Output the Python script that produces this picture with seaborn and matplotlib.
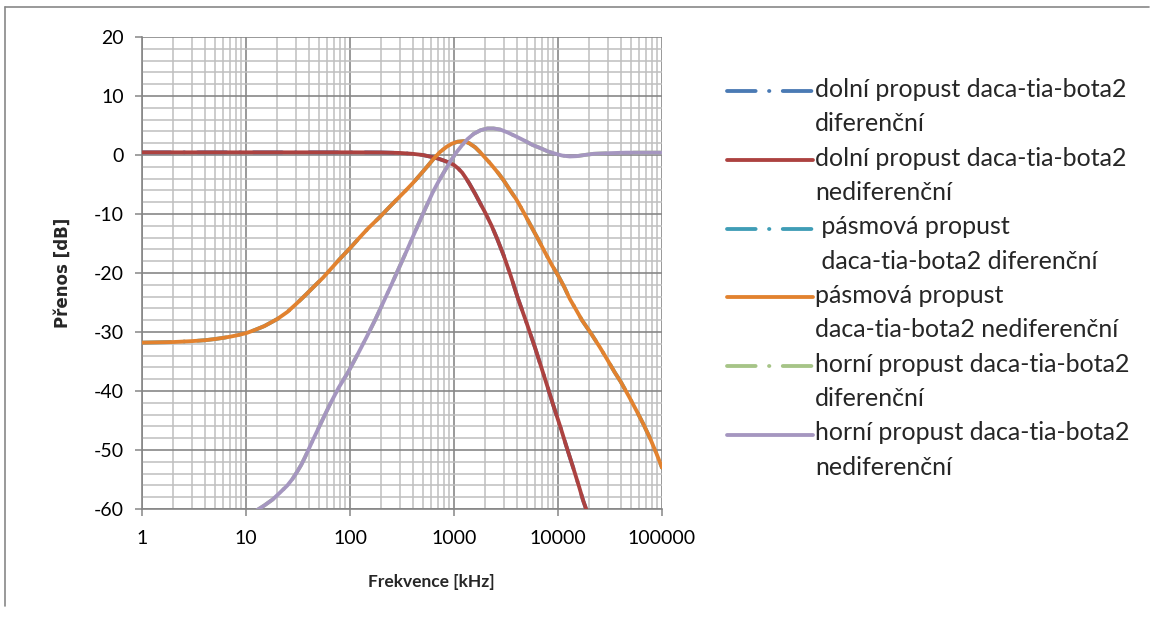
import numpy as np
import pandas as pd
import matplotlib
matplotlib.use("Agg")
import matplotlib.pyplot as plt
from matplotlib.lines import Line2D
from matplotlib.legend_handler import HandlerLine2D
from matplotlib.ticker import FixedLocator, NullFormatter
import seaborn as sns

# --- measured frequency responses (frequency in kHz, transfer in dB) ---
lp_freq = [1, 10, 100, 200, 300, 400, 500, 600, 700, 800, 900, 1000, 1100, 1200, 1300,
           1400, 1600, 1800, 2000, 2300, 2600, 3000, 3500, 4100, 5000, 6000, 7000, 8000,
           9000, 10500, 12000, 14000, 16000, 17400, 19500]
lp_db = [0.45, 0.45, 0.45, 0.43, 0.35, 0.2, 0.0, -0.3, -0.6, -0.95, -1.3, -1.7, -2.3,
         -3.0, -3.9, -4.8, -6.6, -8.3, -9.8, -12.0, -14.2, -17.0, -20.4, -24.2, -28.5,
         -32.6, -36.3, -39.5, -42.4, -46.0, -49.3, -53.0, -56.3, -58.5, -61.0]

bp_freq = [1, 2, 3, 4, 5, 6, 7, 8, 10, 12, 15, 20, 25, 31, 38, 45, 55, 64, 80, 100, 125,
           150, 194, 240, 280, 340, 405, 470, 550, 640, 733, 850, 950, 1080, 1250, 1400,
           1600, 1800, 2000, 2200, 2400, 2700, 3000, 3500, 4000, 4700, 5760, 6500, 7500,
           8700, 10000, 11500, 13000, 15000, 17000, 20700, 25300, 29600, 35000, 40000,
           48000, 57500, 67000, 76700, 88000, 100000]
bp_db = [-31.8, -31.7, -31.55, -31.4, -31.2, -31.0, -30.8, -30.6, -30.2, -29.7, -29.0,
         -27.8, -26.6, -25.1, -23.6, -22.3, -20.8, -19.5, -17.6, -15.8, -13.9, -12.4,
         -10.5, -8.8, -7.6, -6.1, -4.7, -3.4, -2.0, -0.6, 0.5, 1.4, 1.9, 2.25, 2.35, 2.0,
         1.3, 0.4, -0.5, -1.3, -2.1, -3.2, -4.3, -6.1, -7.6, -9.8, -12.7, -14.4, -16.5,
         -18.6, -20.4, -22.4, -24.4, -26.3, -28.0, -30.2, -32.6, -34.6, -36.8, -38.4,
         -40.9, -43.5, -45.8, -48.0, -50.5, -53.0]

hp_freq = [11, 13, 15, 18, 21, 25, 28, 31, 34, 37, 44, 53, 64, 78, 96, 120, 145, 175,
           210, 250, 300, 360, 430, 520, 630, 720, 820, 930, 1050, 1200, 1350, 1550, 1800,
           2100, 2400, 2800, 3300, 4000, 4800, 5700, 6700, 8000, 9500, 11000, 13000,
           15000, 18000, 22000, 30000, 45000, 70000, 100000]
hp_db = [-61.0, -60.1, -59.4, -58.4, -57.3, -56.0, -54.9, -53.7, -52.5, -51.2, -48.3,
         -45.3, -42.3, -39.4, -36.8, -33.6, -30.8, -27.9, -24.9, -22.0, -18.9, -15.8,
         -12.7, -9.4, -6.2, -4.3, -2.6, -1.0, 0.4, 1.7, 2.7, 3.6, 4.2, 4.5, 4.5, 4.3, 3.8,
         3.1, 2.4, 1.7, 1.2, 0.6, 0.2, -0.1, -0.25, -0.2, 0.0, 0.2, 0.3, 0.4, 0.4, 0.4]

# the differential variants coincide with the single-ended ones on this scale
series_names = [
    "dolní propust daca-tia-bota2\ndiferenční",
    "dolní propust daca-tia-bota2\nnediferenční",
    " pásmová propust\n daca-tia-bota2 diferenční",
    "pásmová propust\ndaca-tia-bota2 nediferenční",
    "horní propust daca-tia-bota2\ndiferenční",
    "horní propust daca-tia-bota2\nnediferenční",
]
series_data = [(lp_freq, lp_db), (lp_freq, lp_db), (bp_freq, bp_db),
               (bp_freq, bp_db), (hp_freq, hp_db), (hp_freq, hp_db)]
series_colors = ["#4a7ab4", "#ac4240", "#3f9db6", "#e2822f", "#a6c487", "#a596c0"]
series_dashed = [True, False, True, False, True, False]

x_ticks = [1, 10, 100, 1000, 10000, 100000]
x_ticklabels = ["1", "10", "100", "1000", "10000", "100000"]
y_ticks = [20, 10, 0, -10, -20, -30, -40, -50, -60]

sns.set_theme(style="white")
plt.rcParams["font.family"] = ["Lato", "DejaVu Sans"]
plt.rcParams["axes.unicode_minus"] = False

fig = plt.figure(figsize=(11.54, 6.28), dpi=100)
ax = fig.add_axes([142 / 1154, 1 - 509 / 628, 520 / 1154, 472 / 628])

LW = 2.75
for (fx, fy), name, col, dashed in zip(series_data, series_names, series_colors, series_dashed):
    df = pd.DataFrame({"f": fx, "db": fy})
    kw = dict(lw=LW, color=col, label=name, ax=ax, sort=False, zorder=3 if not dashed else 2)
    line = sns.lineplot(data=df, x="f", y="db", **kw).get_lines()[-1]
    line.set_solid_joinstyle("round")
    if dashed:
        line.set_dashes((7.5, 3.5, 0.1, 3.5))
        line.set_dash_capstyle("round")
    else:
        line.set_solid_capstyle("round")

ax.set_xscale("log")
ax.set_xlim(1, 100000)
ax.set_ylim(-60, 20)

ax.xaxis.set_major_locator(FixedLocator(x_ticks))
ax.set_xticklabels(x_ticklabels)
minor_x = [m * 10 ** d for d in range(0, 5) for m in range(2, 10)]
ax.xaxis.set_minor_locator(FixedLocator(minor_x))
ax.xaxis.set_minor_formatter(NullFormatter())
ax.set_yticks(y_ticks)
ax.set_yticks(np.arange(-60, 21, 2), minor=True)

ax.grid(which="major", color="#878787", lw=1.2, zorder=0)
ax.grid(which="minor", color="#bfbfbf", lw=1.1, zorder=0)
ax.set_axisbelow(True)

for side in ["top", "right"]:
    ax.spines[side].set_visible(False)
for side in ["left", "bottom"]:
    ax.spines[side].set_color("#868686")
    ax.spines[side].set_linewidth(1.2)

ax.tick_params(axis="both", which="major", direction="out", length=5, width=1.1,
               color="#868686", labelsize=14, labelcolor="black")
ax.tick_params(axis="x", which="major", pad=10, bottom=True)
ax.tick_params(axis="y", which="major", pad=8, left=True)
ax.tick_params(axis="both", which="minor", length=0)

ax.set_xlabel("Frekvence [kHz]", fontsize=12.5, fontweight="bold")
ax.xaxis.set_label_coords(0.556, -0.138)
ax.set_ylabel("Přenos [dB]", fontsize=12, fontweight="bold", labelpad=16,
              family="DejaVu Sans")


class FirstLineHandler(HandlerLine2D):
    """Place the legend key level with the first line of a two-line label."""

    def create_artists(self, legend, orig_handle, xdescent, ydescent, width, height,
                       fontsize, trans):
        return super().create_artists(legend, orig_handle, xdescent, ydescent - 23,
                                      width, height, fontsize, trans)


handles, labels = ax.get_legend_handles_labels()
leg = ax.legend(handles, labels, loc="upper left", bbox_to_anchor=(727 / 1154, 1 - 78 / 628),
                bbox_transform=fig.transFigure, frameon=False, fontsize=18,
                handlelength=3.45, handletextpad=0.08, labelspacing=0.45,
                borderpad=0, borderaxespad=0,
                handler_map={Line2D: FirstLineHandler()})
for t in leg.get_texts():
    t.set_linespacing(1.6)

# chart-area border
fig.add_artist(Line2D([5 / 1154, 1149 / 1154], [1 - 7 / 628, 1 - 7 / 628],
                      transform=fig.transFigure, color="#888888", lw=1.2))
fig.add_artist(Line2D([5 / 1154, 5 / 1154], [1 - 7 / 628, 1 - 606 / 628],
                      transform=fig.transFigure, color="#888888", lw=1.2))

fig.savefig("out.png", dpi=100)
